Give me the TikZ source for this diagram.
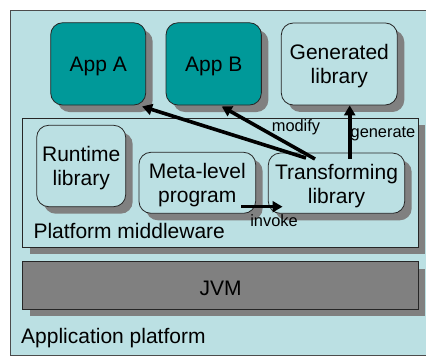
\documentclass[tikz,border=0pt]{standalone}
\usepackage{fontspec}
\setmainfont{Liberation Sans}
\usetikzlibrary{shadows,arrows.meta}
\definecolor{bgc}{HTML}{BBE0E3}
\definecolor{tealc}{HTML}{009999}
\definecolor{shd}{HTML}{808080}
\tikzset{
  shad/.style={general shadow={shadow xshift=7pt, shadow yshift=-7pt, fill=shd}},
  boxtxt/.style={align=center, font=\fontsize{21}{24}\selectfont, inner sep=0pt, yshift=-2.5pt},
  lbl/.style={label={[boxtxt]center:#1}},
  box/.style={draw=black!85, line width=0.8pt, rounded corners=12pt, fill=bgc,
    inner sep=0pt, shad},
  app/.style={box, fill=tealc},
  layer/.style={draw=black!85, line width=0.8pt, fill=bgc, inner sep=0pt, shad},
  bigtxt/.style={font=\fontsize{21}{24}\selectfont, inner sep=0pt},
  smalltxt/.style={font=\fontsize{16.4}{18}\selectfont, inner sep=0pt},
  arr/.style={line width=3.6pt, -{Triangle[length=10pt,width=11pt]}},
}
\begin{document}
\begin{tikzpicture}[x=1pt,y=-1pt]
\useasboundingbox (0,0) rectangle (426,358);
\fill[white] (0,0) rectangle (426,358);
% outer platform
\node[draw=black!70, line width=0.8pt, fill=bgc, minimum width=416pt, minimum height=345pt, inner sep=0pt] (plat) at (218,182.5) {};
\node[bigtxt, anchor=west] (plattxt) at (21,338) {Application platform};
% middleware
\node[layer, minimum width=395.3pt, minimum height=129.3pt] (mw) at (220.3,182.7) {};
\node[bigtxt, anchor=west] (mwtxt) at (33.3,231) {Platform middleware};
% JVM
\node[layer, fill=shd, minimum width=395.6pt, minimum height=47.6pt, lbl={JVM}] (jvm) at (220.5,285.5) {};
% apps
\node[app, minimum width=95pt, minimum height=82.3pt, lbl={App A}] (appA) at (98.2,63.9) {};
\node[app, minimum width=95.3pt, minimum height=82.3pt, lbl={App B}] (appB) at (213.7,63.9) {};
\node[box, minimum width=116pt, minimum height=82pt, lbl={Generated\\library}] (gen) at (339.3,64) {};
% inner
\node[box, minimum width=89pt, minimum height=81.4pt, lbl={Runtime\\library}] (rt) at (81.2,166) {};
\node[box, minimum width=116.7pt, minimum height=61pt, lbl={Meta-level\\program}] (meta) at (197.3,182.8) {};
\node[box, minimum width=136.4pt, minimum height=60.3pt, lbl={Transforming\\library}] (tl) at (336.5,183.2) {};
% arrows
\coordinate (sa) at (306,158);
\coordinate (sb) at (315,159);
\coordinate (sg) at (349.7,159);
\coordinate (si) at (241,206.7);
\coordinate (ti) at (282.5,206.7);
\draw[arr] (sa) -- ([xshift=-4pt,yshift=-1pt]appA.south east);
\draw[arr] (sb) -- ([xshift=8pt,yshift=-1pt]appB.south);
\draw[arr] (sg) -- (sg |- gen.south);
\draw[arr] (si) -- (ti);
\node[smalltxt] (modify) at (296,127) {modify};
\node[smalltxt] (generate) at (383,134) {generate};
\node[smalltxt] (invoke) at (274,221) {invoke};
\end{tikzpicture}
\end{document}
